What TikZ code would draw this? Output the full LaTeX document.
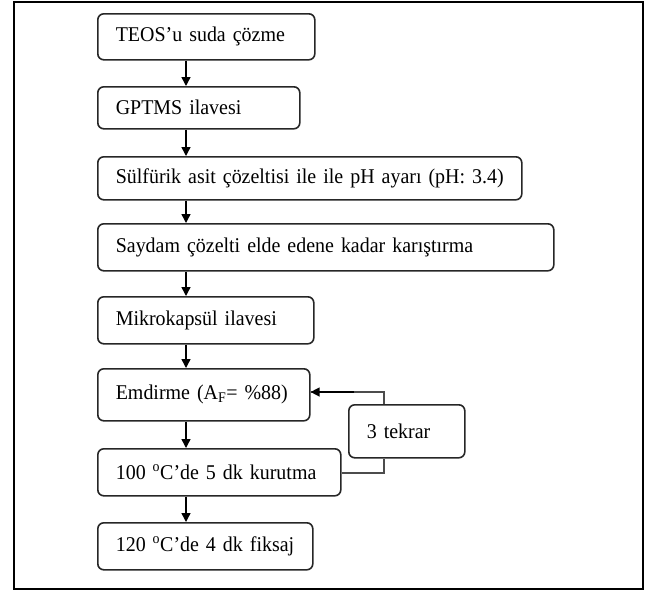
\documentclass[tikz,border=0pt]{standalone}
\usepackage{fontspec}
\setmainfont{Liberation Serif}[FakeStretch=0.95]
\usetikzlibrary{arrows.meta}
\begin{document}
\begin{tikzpicture}[x=1pt,y=-1pt,
  stepbox/.style={draw=black!85,line width=1.6pt,rounded corners=6pt,anchor=north west,
    inner xsep=18pt,inner ysep=0pt,align=left,font=\fontsize{21}{25}\selectfont},
  flow/.style={draw=black,line width=1.4pt,-{Triangle[length=9pt,width=9pt]}},
  loopline/.style={draw=black!70,line width=1.2pt}]
\path[use as bounding box] (0,0) rectangle (647,590);
\draw[line width=2pt] (14,2) rectangle (643,589);
\newcommand{\mybox}[6]{%
  \node[stepbox,minimum height={#5-#3},text width={#4-#2-36}] (#1) at (#2,#3) {\mbox{#6}};}
\mybox{b1}{97}{13}{314}{59}{TEOS’u suda çözme}
\mybox{b2}{97}{86}{299}{128}{GPTMS ilavesi}
\mybox{b3}{97}{156}{521}{199}{Sülfürik asit çözeltisi ile ile pH ayarı (pH: 3.4)}
\mybox{b4}{97}{223}{553}{270}{Saydam çözelti elde edene kadar karıştırma}
\mybox{b5}{97}{296}{313}{343}{Mikrokapsül ilavesi}
\mybox{b6}{97}{368}{309}{420}{Emdirme (A\textsubscript{F}= \%88)}
\mybox{b7}{97}{448}{340}{495}{100 \textsuperscript{o}C’de 5 dk kurutma}
\mybox{b8}{97}{522}{312}{569}{120 \textsuperscript{o}C’de 4 dk fiksaj}
\mybox{t}{348}{404}{464}{457}{3 tekrar}
\foreach \a/\b in {b1/b2,b2/b3,b3/b4,b4/b5,b5/b6,b6/b7,b7/b8}{
  \draw[flow] (\a.south -| 186,0) -- (\b.north -| 186,0);}
\coordinate (l1) at (384,473);
\coordinate (l2) at (384,392);
\draw[loopline] (b7.east |- l1) -- (l1) -- (t.south -| l1);
\draw[loopline] (t.north -| l2) -- (l2) -- (b6.east |- l2);
\draw[flow] (l2) ++(-30,0) -- (b6.east |- l2);
\end{tikzpicture}
\end{document}
